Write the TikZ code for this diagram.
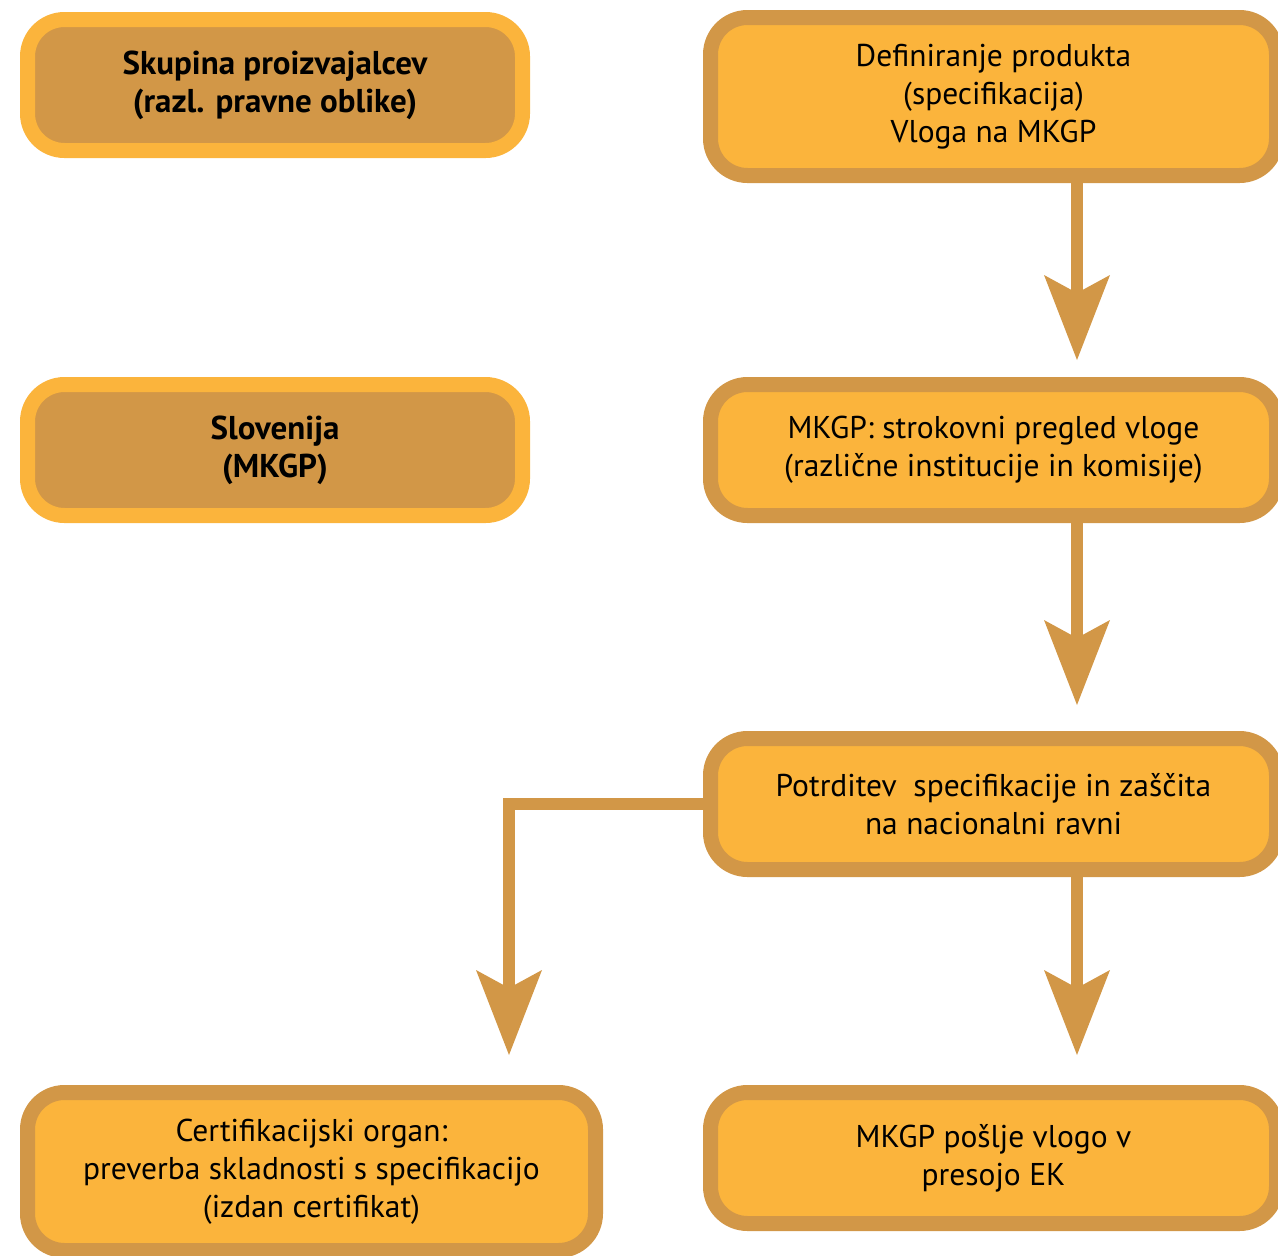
\documentclass[tikz,border=0pt]{standalone}
\usepackage{fontspec}
\setmainfont{PT Sans}
\usetikzlibrary{arrows.meta}
\definecolor{lightor}{HTML}{FBB43C}
\definecolor{darkor}{HTML}{D29747}
\tikzset{
  box/.style={draw=darkor, fill=lightor, line width=15pt, rounded corners=37pt,
    align=center, text=black, font=\fontsize{31.5}{38}\selectfont,
    minimum width=566pt, minimum height=131pt, inner sep=0pt},
  actor/.style={box, draw=lightor, fill=darkor, minimum width=495pt,
    font=\fontsize{33}{38}\selectfont\bfseries},
  tall/.style={minimum height=158pt},
  arr/.style={draw=darkor, line width=12pt,
    -{Stealth[length=85pt, width=66pt, inset=18pt, line width=0pt]}},
}
\begin{document}
\begin{tikzpicture}[x=1pt,y=-1pt]
\useasboundingbox (0,0) rectangle (1278,1256);
\clip (0,0) rectangle (1278,1256);

% left column
\node[actor] (skup) at (275,85) {Skupina proizvajalcev\\(razl. pravne oblike)};
\node[actor] (slo) at (275,450) {Slovenija\\(MKGP)};
\node[box,tall,minimum width=568pt] (cert) at (311.5,1171.5) {Certifikacijski organ:\\preverba skladnosti s specifikacijo\\(izdan certifikat)};

% right column
\node[box,tall] (def) at (993.5,96.5) {Definiranje produkta\\(specifikacija)\\Vloga na MKGP};
\node[box] (strok) at (993.5,450) {MKGP: strokovni pregled vloge\\(različne institucije in komisije)};
\node[box] (potr) at (993.5,804) {Potrditev~ specifikacije in zaščita\\na nacionalni ravni};
\node[box] (ek) at (993.5,1158) {MKGP pošlje vlogo v\\presojo EK};

% arrows
\coordinate (rx) at (1077,0);
\coordinate (lx) at (509,0);
\draw[arr, shorten >=17pt] (def.south -| rx) -- (strok.north -| rx);
\draw[arr, shorten >=26pt] (strok.south -| rx) -- (potr.north -| rx);
\draw[arr, shorten >=30pt] (potr.south -| rx) -- (ek.north -| rx);
\draw[arr, shorten >=30pt] (potr.west) -| (cert.north -| lx);

\end{tikzpicture}
\end{document}
